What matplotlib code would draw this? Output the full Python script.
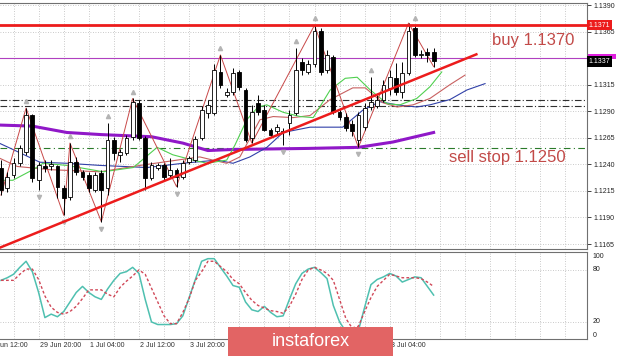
import matplotlib
matplotlib.use('Agg')
import matplotlib.pyplot as plt
from matplotlib.patches import Rectangle
from matplotlib.transforms import blended_transform_factory, offset_copy

plt.rcParams['font.family'] = ['Liberation Sans', 'DejaVu Sans']

# EURUSD H4 candles, oldest first
opens = [1.1237, 1.1218, 1.1230, 1.1241, 1.1252, 1.1286, 1.1225, 1.1238, 1.1238, 1.1238,
         1.1218, 1.1209, 1.1242, 1.1233, 1.1230, 1.1216, 1.1232, 1.1218, 1.1263, 1.1249,
         1.1251, 1.1266, 1.1298, 1.1265, 1.1227, 1.1237, 1.1239, 1.1230, 1.1235, 1.1228,
         1.1242, 1.1244, 1.1265, 1.1288, 1.1288, 1.1327, 1.1305, 1.1308, 1.1327, 1.1310,
         1.1265, 1.1298, 1.1291, 1.1272, 1.1271, 1.1270, 1.1279, 1.1288, 1.1336, 1.1327,
         1.1334, 1.1366, 1.1329, 1.1341, 1.1289, 1.1285, 1.1278, 1.1263, 1.1275, 1.1294,
         1.1295, 1.1301, 1.1312, 1.1321, 1.1308, 1.1326, 1.1368, 1.1343, 1.1346, 1.1346]
closes = [1.1216, 1.1228, 1.1241, 1.1255, 1.1286, 1.1227, 1.1239, 1.1237, 1.1240, 1.1219,
          1.1208, 1.1242, 1.1233, 1.1228, 1.1218, 1.1230, 1.1216, 1.1263, 1.1251, 1.1252,
          1.1265, 1.1299, 1.1265, 1.1227, 1.1239, 1.1239, 1.1228, 1.1235, 1.1228, 1.1241,
          1.1246, 1.1264, 1.1291, 1.1296, 1.1329, 1.1315, 1.1308, 1.1326, 1.1313, 1.1263,
          1.1289, 1.1289, 1.1272, 1.1268, 1.1275, 1.1271, 1.1286, 1.1329, 1.1329, 1.1334,
          1.1366, 1.1327, 1.1343, 1.1289, 1.1285, 1.1274, 1.1271, 1.1286, 1.1293, 1.1299,
          1.1301, 1.1315, 1.1322, 1.1308, 1.1326, 1.1366, 1.1343, 1.1344, 1.1343, 1.1337]
highs = [1.1244, 1.1233, 1.1246, 1.1258, 1.1293, 1.1287, 1.1242, 1.1244, 1.1244, 1.1239,
         1.1221, 1.1260, 1.1247, 1.1235, 1.1233, 1.1233, 1.1235, 1.1279, 1.1266, 1.1254,
         1.1268, 1.1302, 1.1301, 1.1267, 1.1242, 1.1241, 1.1241, 1.1246, 1.1237, 1.1244,
         1.1248, 1.1267, 1.1295, 1.1301, 1.1334, 1.1343, 1.1312, 1.1331, 1.1329, 1.1312,
         1.1296, 1.1305, 1.1296, 1.1274, 1.1278, 1.1274, 1.1291, 1.1350, 1.1340, 1.1338,
         1.1371, 1.1368, 1.1348, 1.1343, 1.1293, 1.1288, 1.1282, 1.1289, 1.1298, 1.1322,
         1.1305, 1.1319, 1.1329, 1.1335, 1.1336, 1.1373, 1.1371, 1.1348, 1.1350, 1.1350]
lows = [1.1211, 1.1214, 1.1227, 1.1238, 1.1249, 1.1223, 1.1216, 1.1233, 1.1235, 1.1208,
        1.1192, 1.1206, 1.1230, 1.1225, 1.1214, 1.1214, 1.1186, 1.1211, 1.1244, 1.1242,
        1.1249, 1.1263, 1.1263, 1.1216, 1.1225, 1.1235, 1.1225, 1.1227, 1.1219, 1.1226,
        1.1240, 1.1242, 1.1263, 1.1284, 1.1286, 1.1312, 1.1303, 1.1305, 1.1310, 1.1261,
        1.1260, 1.1286, 1.1271, 1.1266, 1.1269, 1.1258, 1.1268, 1.1286, 1.1324, 1.1325,
        1.1332, 1.1324, 1.1326, 1.1287, 1.1282, 1.1271, 1.1267, 1.1256, 1.1272, 1.1291,
        1.1293, 1.1299, 1.1305, 1.1305, 1.1302, 1.1324, 1.1341, 1.1340, 1.1336, 1.1332]

# stochastic oscillator
stoch_main = [68, 71, 75, 83, 90, 78, 54, 25, 29, 26, 32, 43, 54, 61, 54, 49, 46, 58, 68, 76,
              78, 83, 76, 46, 20, 17, 17, 17, 18, 27, 48, 69, 90, 93, 93, 83, 73, 62, 60, 43,
              34, 32, 38, 31, 26, 27, 46, 64, 76, 81, 83, 77, 70, 39, 20, 9, 6, 10, 37, 63,
              69, 72, 76, 73, 66, 69, 72, 71, 61, 51]
stoch_signal = [68, 68, 68, 75, 81, 81, 69, 50, 37, 31, 29, 32, 38, 47, 57, 57, 57, 52, 49, 60,
                67, 73, 80, 75, 59, 43, 27, 18, 18, 31, 47, 68, 78, 90, 90, 84, 78, 69, 64, 54,
                45, 39, 36, 33, 32, 30, 38, 52, 69, 80, 83, 80, 76, 68, 46, 24, 13, 15, 32, 48,
                61, 68, 75, 73, 71, 71, 71, 70, 66, 61]

# moving averages (bar index, price)
slow_idx = [-0.3, 5, 10.5, 16, 24, 29, 33, 37, 49, 57, 62.5, 69]
slow_val = [1.1277, 1.1276, 1.1270, 1.1268, 1.1266, 1.1260, 1.1253, 1.1254, 1.1255, 1.1256, 1.1261, 1.1270]
jaw_idx = [-0.3, 1.9, 6.2, 10.5, 15.8, 23.3, 29, 34.4, 37, 39.7, 42.4, 45, 49.3, 54.5, 57.7,
           60.4, 63.2, 66.3, 68.4, 71.6, 74.3, 77.2]
jaw_val = [1.1260, 1.1254, 1.1242, 1.1241, 1.1239, 1.1237, 1.1241, 1.1244, 1.1241, 1.1247, 1.1256,
           1.1270, 1.1275, 1.1275, 1.1291, 1.1299, 1.1296, 1.1294, 1.1296, 1.1301, 1.1310, 1.1316]
teeth_idx = [-0.3, 2.6, 7.8, 15.8, 22.2, 28.1, 31.7, 33.8, 36, 38.1, 41.3, 43.4, 46.6, 49.3,
             52.5, 56.1, 58.1, 60.9, 63.2, 65.7, 68.4, 71.6, 74]
teeth_val = [1.1246, 1.1238, 1.1235, 1.1233, 1.1239, 1.1244, 1.1247, 1.1244, 1.1241, 1.1247, 1.1282,
             1.1285, 1.1284, 1.1286, 1.1301, 1.1312, 1.1312, 1.1298, 1.1294, 1.1296, 1.1302, 1.1315, 1.1324]
lips_idx = [-0.3, 1.9, 5.1, 6.7, 10.5, 16.3, 21.1, 24.9, 27.4, 30.6, 32.9, 36, 37.3, 39.2, 41,
            42.4, 45, 47.7, 49.8, 52.5, 54.9, 56.8, 58.9, 61.6, 63.6, 66.3, 68.4, 70.3]
lips_val = [1.1225, 1.1225, 1.1235, 1.1241, 1.1239, 1.1233, 1.1237, 1.1256, 1.1249, 1.1244, 1.1241,
            1.1244, 1.1258, 1.1282, 1.1294, 1.1296, 1.1289, 1.1285, 1.1284, 1.1310, 1.1321, 1.1322,
            1.1310, 1.1297, 1.1296, 1.1302, 1.1313, 1.1327]

# zigzag turning points (bar index, 'H' = high / 'L' = low)
zz_idx = [0, 4, 10, 11, 16, 21, 28, 35, 40, 50, 57, 65, 69]
zz_side = ['L', 'H', 'L', 'H', 'L', 'H', 'L', 'H', 'L', 'H', 'L', 'H', 'L']
fract_up = [4, 11, 17, 21, 35, 47, 50, 59, 66]
fract_dn = [6, 10, 16, 28, 45, 57]

# levels
buy_level = 1.1371
mark_level = 1.1340
dd_levels = [1.1301, 1.1295]
stop_level = 1.1255
trend_idx = [-1, 76]
trend_val = [1.11596, 1.1344]

price_ticks = [1.1165, 1.1190, 1.1215, 1.1240, 1.1265, 1.1290, 1.1315, 1.1340, 1.1365, 1.1390]
time_idx = [-2, 6, 14, 22, 30, 62]
time_labels = ['un 12:00', '29 Jun 20:00', '1 Jul 04:00', '2 Jul 12:00', '3 Jul 20:00', '3 Jul 04:00']
grid_idx = list(range(-2, 94, 4))

W, H = 620, 356
fig = plt.figure(figsize=(6.2, 3.56), dpi=100)
fig.patch.set_facecolor('white')
right = 587 / W
ax = fig.add_axes([0, 1 - 249 / H, right, 246 / H])
ax2 = fig.add_axes([0, 1 - 339 / H, right, 87 / H])

xlim = (-1 / 6.27, 586 / 6.27)
grid_kw = dict(color='#b8b8b8', lw=0.6, ls=(0, (1, 2)), zorder=0)
red = '#ec1c1c'

# ---- main price panel ----
for g in grid_idx:
    ax.axvline(g, **grid_kw)
for p in price_ticks:
    ax.axhline(p, **grid_kw)

ax.axhline(mark_level, color='#b040c0', lw=0.8, zorder=1)
for lv in dd_levels:
    ax.axhline(lv, color='#303030', lw=0.8, ls=(0, (6, 2, 1, 2)), zorder=1)
ax.axhline(stop_level, color='#2a7a2a', lw=0.8, ls=(0, (6, 3, 1, 3)), zorder=1)

ax.plot(slow_idx, slow_val, color='#9018c8', lw=2.2, zorder=2)
ax.plot(jaw_idx, jaw_val, color='#3040a8', lw=0.8, zorder=2)
ax.plot(teeth_idx, teeth_val, color='#c86060', lw=0.8, zorder=2)
ax.plot(lips_idx, lips_val, color='#50d050', lw=0.8, zorder=2)

zz_val = [highs[i] if s == 'H' else lows[i] for i, s in zip(zz_idx, zz_side)]
ax.plot(zz_idx, zz_val, color='#c84848', lw=0.7, zorder=2)

n = len(opens)
for i in range(n):
    o, c = opens[i], closes[i]
    ax.vlines(i, lows[i], highs[i], color='black', lw=0.7, zorder=3)
    up = c >= o
    body = max(abs(c - o), 0.00004)
    ax.bar(i, body, bottom=min(o, c), width=0.6, color='white' if up else 'black',
           edgecolor='black', lw=0.6, zorder=4)

up_tr = offset_copy(ax.transData, fig=fig, x=0, y=5, units='points')
dn_tr = offset_copy(ax.transData, fig=fig, x=0, y=-5, units='points')
ax.plot(fract_up, [highs[i] for i in fract_up], ls='none', marker='^', ms=3,
        color='#b4b4b4', transform=up_tr, zorder=5)
ax.plot(fract_dn, [lows[i] for i in fract_dn], ls='none', marker='v', ms=3,
        color='#b4b4b4', transform=dn_tr, zorder=5)

ax.axhline(buy_level, color=red, lw=2.0, zorder=6)
ax.plot(trend_idx, trend_val, color=red, lw=1.8, zorder=6, solid_capstyle='butt')

ax.text(78.3, 1.1357, 'buy 1.1370', color='#c24a48', fontsize=12, va='center', ha='left', zorder=7)
ax.text(71.5, 1.1246, 'sell stop 1.1250', color='#c24a48', fontsize=12, va='center', ha='left', zorder=7)

ax.set_xlim(*xlim)
ax.set_ylim(1.11603, 1.13919)
ax.set_xticks([])
ax.yaxis.tick_right()
ax.set_yticks(price_ticks)
# the 1.1340 label sits under the price boxes
ax.set_yticklabels(['' if p == mark_level else '%.4f' % p for p in price_ticks])
ax.tick_params(axis='y', direction='out', length=3, width=0.6, pad=2, labelsize=5, colors='#222222')
ax.spines['left'].set_visible(False)
for s in ['top', 'bottom', 'right']:
    ax.spines[s].set_color('#707070')
    ax.spines[s].set_linewidth(0.8)

tr = blended_transform_factory(ax.transAxes, ax.transData)
ax.text(1.003, buy_level, '%.4f' % buy_level, transform=tr, fontsize=5, color='white', va='center',
        ha='left', bbox=dict(boxstyle='square,pad=0.25', fc=red, ec='none'), zorder=8, clip_on=False)
ax.add_patch(Rectangle((1.002, mark_level - 0.0001), 0.048, 0.00045, transform=tr,
                       facecolor='#e020e0', edgecolor='none', clip_on=False, zorder=8))
ax.text(1.003, closes[-1], '%.4f' % closes[-1], transform=tr, fontsize=5, color='white', va='center',
        ha='left', bbox=dict(boxstyle='square,pad=0.25', fc='black', ec='none'), zorder=9, clip_on=False)

# ---- stochastic panel ----
for g in grid_idx:
    ax2.axvline(g, **grid_kw)
for lv in [20, 80]:
    ax2.axhline(lv, **grid_kw)
ax2.plot(range(n), stoch_main, color='#4fc0b0', lw=1.1, zorder=2)
ax2.plot(range(n), stoch_signal, color='#d04858', lw=1.0, ls=(0, (2, 1.6)), zorder=3)
ax2.set_xlim(*xlim)
ax2.set_ylim(0.3, 100.7)
ax2.set_xticks([])
ax2.set_yticks([])
ax2.spines['left'].set_visible(False)
for s in ['top', 'bottom', 'right']:
    ax2.spines[s].set_color('#707070')
    ax2.spines[s].set_linewidth(0.8)
tr2 = blended_transform_factory(ax2.transAxes, ax2.transData)
for lv, va in [(100, 'top'), (80, 'center'), (20, 'center'), (0, 'bottom')]:
    ax2.text(1.01, lv, str(lv), transform=tr2, fontsize=5, color='#222222', va=va, ha='left', clip_on=False)

trx = blended_transform_factory(ax2.transData, ax2.transAxes)
for i, lab in zip(time_idx, time_labels):
    ax2.text(max(i + 0.2, xlim[0] + 0.05), -0.07, lab, transform=trx, fontsize=5, color='#303030',
             va='center', ha='left', clip_on=False)

# watermark
fig.add_artist(Rectangle((228 / W, 0), 165 / W, 29 / H, transform=fig.transFigure,
                         facecolor='#e26464', edgecolor='none', zorder=10))
fig.text(310.5 / W, 15 / H, 'instaforex', color='white', fontsize=13, ha='center', va='center', zorder=11)

fig.savefig('out.png', dpi=100, facecolor='white')
